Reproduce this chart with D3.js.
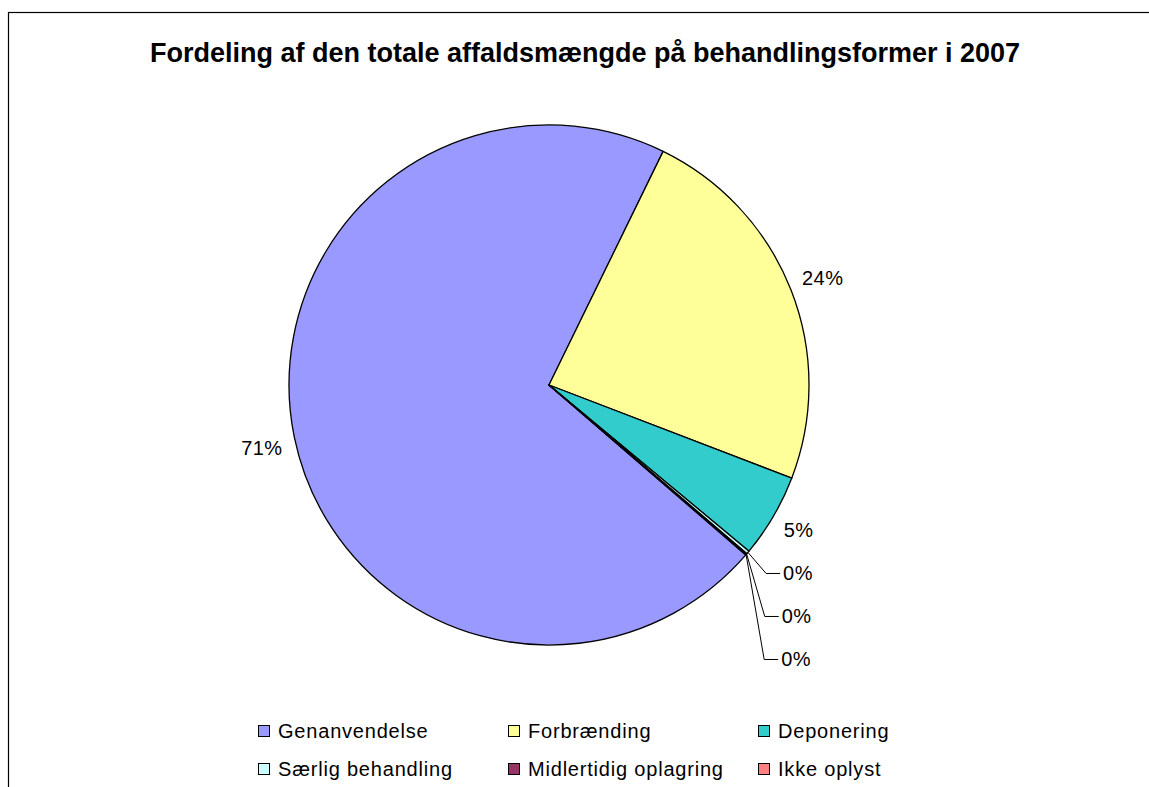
<!DOCTYPE html>
<html lang="da">
<head>
  <meta charset="UTF-8">
  <title>Fordeling af den totale affaldsmængde</title>
  <style>
    * {
      margin: 0;
      padding: 0;
    }
    body {
      background: #fff;
    }
    text {
      font-family: Arial, "Liberation Sans", sans-serif;
    }
  </style>
</head>
<body>
  <script src="https://d3js.org/d3.v7.min.js"></script>
  <script>
    const width = 1149;
    const height = 787;

    // data
    const title = 'Fordeling af den totale affaldsmængde på behandlingsformer i 2007';
    const categories = ['Genanvendelse', 'Forbrænding', 'Deponering', 'Særlig behandling', 'Midlertidig oplagring', 'Ikke oplyst'];
    const shares = [70.9, 23.6, 5.2, 0.2, 0.05, 0.05];
    const colors = ['#9999ff', '#ffff99', '#33cccc', '#ccffff', '#993366', '#ff8080'];

    const cx = 549;
    const cy = 385;
    const radius = 260;
    const firstSliceAngle = 130.8; // degrees, clockwise from 12 o'clock

    const svg = d3.select('body')
      .append('svg')
      .attr('width', width)
      .attr('height', height)

    // chart frame (runs off the right and bottom edge)
    svg.append('rect')
      .attr('x', 8.5)
      .attr('y', 12.5)
      .attr('width', 1200)
      .attr('height', 900)
      .attr('fill', 'none')
      .attr('stroke', '#000')
      .attr('stroke-width', 1.2)

    svg.append('text')
      .attr('x', 585)
      .attr('y', 62)
      .attr('text-anchor', 'middle')
      .attr('font-size', 27)
      .attr('font-weight', 'bold')
      .text(title)

    const ds = categories.map((name, i) => ({ name, value: shares[i], color: colors[i] }));

    const a0 = firstSliceAngle * Math.PI / 180;
    const pie = d3.pie()
      .sort(null)
      .value(d => d.value)
      .startAngle(a0)
      .endAngle(a0 + 2 * Math.PI)

    const arcs = pie(ds);
    const arc = d3.arc().innerRadius(0).outerRadius(radius);

    const g = svg.append('g')
      .attr('transform', `translate(${cx}, ${cy})`)

    g.selectAll('path')
      .data(arcs)
      .enter()
      .append('path')
      .attr('d', arc)
      .attr('fill', d => d.data.color)
      .attr('stroke', '#000')
      .attr('stroke-width', 1.3)
      .attr('stroke-linejoin', 'round')

    // labels
    const total = d3.sum(shares);
    const pct = d => Math.round(d.value / total * 100) + '%';
    const labelR = radius + 12;
    const lineGap = 43;

    const labels = arcs.map(d => {
      const a = (d.startAngle + d.endAngle) / 2;
      const s = Math.sin(a), c = -Math.cos(a);
      const px = labelR * s, py = labelR * c;
      const right = s > 0;
      const lower = c > 0;
      return {
        d, a, s, c, right,
        x: px,
        baseline: lower ? py + 15 : py,
        leader: false,
      };
    });

    // stack labels on the lower right so they don't overlap
    let prev = null;
    labels
      .filter(l => l.right && l.c > 0)
      .sort((p, q) => p.a - q.a)
      .forEach(l => {
        if (prev && l.baseline < prev.baseline + lineGap) {
          l.baseline = prev.baseline + lineGap;
          l.x += 26;
          l.leader = true;
        }
        prev = l;
      });

    const lg = g.append('g');

    lg.selectAll('polyline')
      .data(labels.filter(l => l.leader))
      .enter()
      .append('polyline')
      .attr('points', l => {
        const ex = radius * l.s, ey = radius * l.c;
        const my = l.baseline - 7;
        return `${ex},${ey} ${l.x - 17},${my} ${l.x - 3},${my}`;
      })
      .attr('fill', 'none')
      .attr('stroke', '#000')
      .attr('stroke-width', 1)

    lg.selectAll('text')
      .data(labels)
      .enter()
      .append('text')
      .attr('x', l => l.x)
      .attr('y', l => l.baseline)
      .attr('text-anchor', l => l.right ? 'start' : 'end')
      .attr('font-size', 20)
      .attr('letter-spacing', 0.4)
      .text(l => pct(l.d.data))

    // legend
    const colScale = d3.scalePoint().domain([0, 1, 2]).range([258, 758]);
    const rowScale = d3.scalePoint().domain([0, 1]).range([731, 769]);

    const legend = svg.append('g')
      .selectAll('g')
      .data(ds)
      .enter()
      .append('g')
      .attr('transform', (d, i) => `translate(${colScale(i % 3)}, ${rowScale(Math.floor(i / 3))})`)

    legend.append('rect')
      .attr('x', 0.5)
      .attr('y', -5.5)
      .attr('width', 11)
      .attr('height', 11)
      .attr('fill', d => d.color)
      .attr('stroke', '#000')
      .attr('stroke-width', 1)

    legend.append('text')
      .attr('x', 20)
      .attr('y', 7)
      .attr('font-size', 20)
      .attr('letter-spacing', 0.8)
      .text(d => d.name)
  </script>
</body>
</html>
